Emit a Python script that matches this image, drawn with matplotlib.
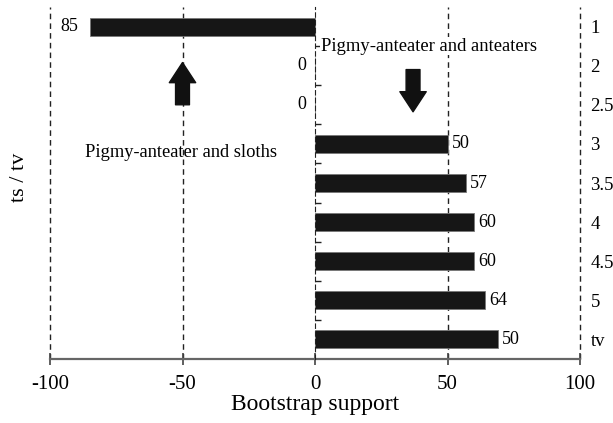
import matplotlib
matplotlib.use("Agg")
import matplotlib.pyplot as plt
import numpy as np

categories = ["1", "2", "2.5", "3", "3.5", "4", "4.5", "5", "tv"]
values = [-85, 0, 0, 50, 57, 60, 60, 64, 69]
value_labels = ["85", "0", "0", "50", "57", "60", "60", "64", "50"]
xticks = [-100, -50, 0, 50, 100]

plt.rcParams['font.family'] = ['Liberation Serif', 'DejaVu Serif']

fig = plt.figure(figsize=(6.13, 4.23), dpi=100)
ax = fig.add_axes([50/613, 64/423, 530/613, 352/423])

y = np.arange(len(categories))
ax.barh(y, values, height=0.46, color='#161616', edgecolor='#777777', linewidth=0.6, zorder=3)

ax.set_xlim(-100, 100)
ax.set_ylim(len(categories) - 0.5, -0.5)

for xv in [-100, -50, 50, 100]:
    ax.axvline(xv, color='#222222', linestyle=(0, (4, 3)), linewidth=1.0, zorder=1, clip_on=False)

# value labels
for yi, v, lab in zip(y, values, value_labels):
    if v < 0:
        ax.annotate(lab, (v, yi), xytext=(-8, 0), textcoords='offset points',
                    ha='right', va='center', fontsize=13)
    elif v == 0:
        ax.annotate(lab, (v, yi), xytext=(-6, 0), textcoords='offset points',
                    ha='right', va='center', fontsize=13)
    else:
        ax.annotate(lab, (v, yi), xytext=(3, 0), textcoords='offset points',
                    ha='left', va='center', fontsize=13)

# spines
ax.spines['top'].set_visible(False)
ax.spines['right'].set_visible(False)
ax.spines['left'].set_position(('data', 0))
ax.spines['left'].set_linestyle((0, (4, 3)))
ax.spines['left'].set_color('#222222')
ax.spines['left'].set_zorder(4)
ax.spines['bottom'].set_color('#666666')
ax.spines['bottom'].set_linewidth(1.6)

ax.set_xticks(xticks)
ax.set_xticklabels([str(t) for t in xticks], fontsize=15)
ax.tick_params(axis='x', direction='inout', length=9, width=1.2, color='#444444', pad=7)

ax.set_yticks(y)
ax.set_yticklabels(categories, fontsize=13.5)
ax.tick_params(axis='y', which='major', left=False, right=False,
               labelleft=False, labelright=True, pad=4)
ax.set_yticks(y[:-1] + 0.5, minor=True)
ax.tick_params(axis='y', which='minor', direction='in', length=4, width=1.0, color='#222222')

ax.set_xlabel("Bootstrap support", fontsize=17, labelpad=0)
fig.text(19/613, 1 - 177/423, "ts / tv", rotation=90, ha='center', va='center', fontsize=16)

# arrows
aprops = dict(arrowstyle="simple,head_width=1.9,head_length=1.45,tail_width=1.0",
              mutation_scale=10, color='#111111', shrinkA=0, shrinkB=0)
ax.annotate("", xy=(-50, 0.92), xytext=(-50, 2.0), arrowprops=aprops, zorder=5)
ax.annotate("", xy=(37, 2.18), xytext=(37, 1.1), arrowprops=aprops, zorder=5)

ax.text(-50.5, 3.23, "Pigmy-anteater and sloths", ha='center', va='center', fontsize=13.3)
ax.text(43, 0.5, "Pigmy-anteater and anteaters", ha='center', va='center', fontsize=13.4,
        bbox=dict(facecolor='white', edgecolor='none', pad=0.5), zorder=4)

fig.savefig("out.png", dpi=100)
